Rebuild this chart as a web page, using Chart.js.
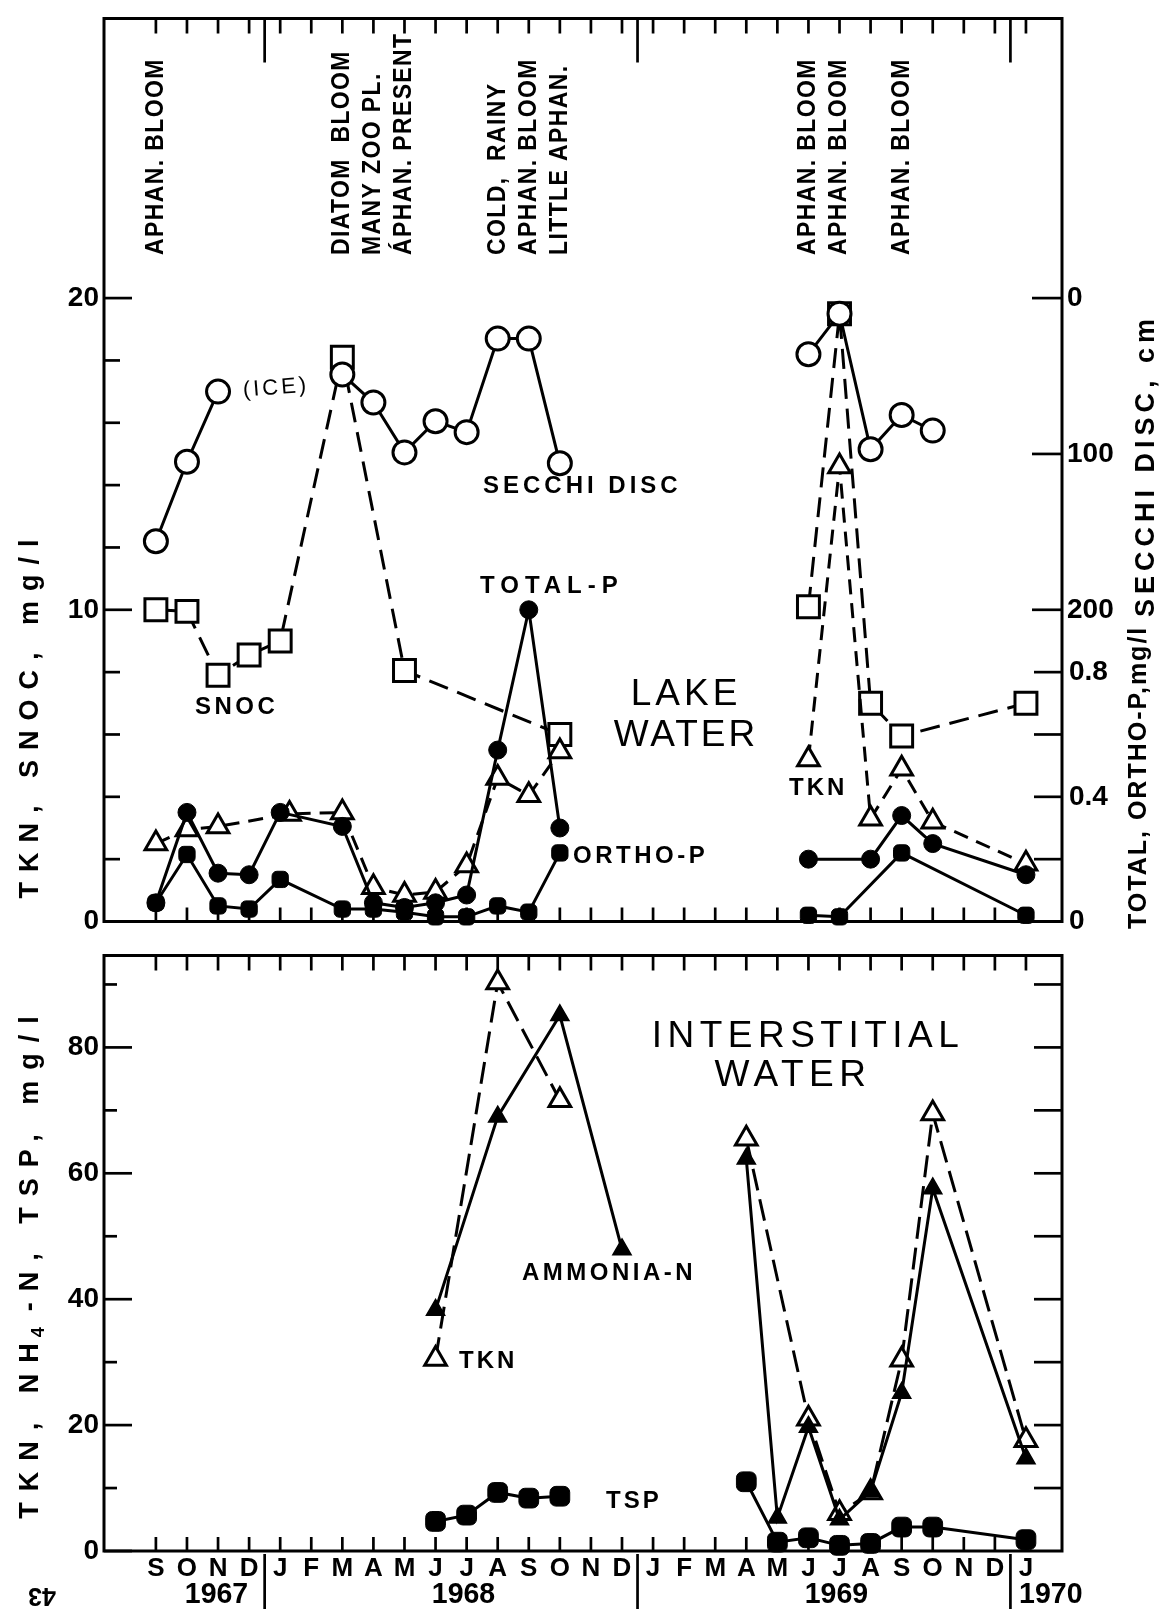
<!DOCTYPE html>
<html>
<head>
<meta charset="utf-8">
<script src="https://cdn.jsdelivr.net/npm/chart.js@4.4.1/dist/chart.umd.min.js"></script>
<style>
html, body { margin: 0; padding: 0; background: #fff; }
#wrap { position: relative; width: 1164px; height: 1610px; overflow: hidden; }
canvas { position: absolute; left: 0; }
#lake { top: 0; }
#pore { top: 940px; }
</style>
</head>
<body>
<div id="wrap">
  <canvas id="lake" width="1164" height="940" style="width:1164px;height:940px"></canvas>
  <canvas id="pore" width="1164" height="670" style="width:1164px;height:670px"></canvas>
</div>
<script>
// month axis, Sep 1967 .. Jan 1970 (index 0 = S 1967)
const months = ['S','O','N','D','J','F','M','A','M','J','J','A','S','O','N','D','J','F','M','A','M','J','J','A','S','O','N','D','J'];
const years = ['1967', '1968', '1969', '1970'];

// lake water (top panel). x = month index, null = break in the line
const secchiMonth = [0, 1, 2, 3, 6, 7, 8, 9, 10, 11, 12, 13, 17, 21, 22, 23, 24, 25];
const secchiCm    = [156, 105, 60, null, 49, 67, 99, 79, 86, 26, 26, 106, null, 36, 10, 97, 75, 85];

const snocMonth = [0, 1, 2, 3, 4, 6, 8, 13, 17, 21, 22, 23, 24, 28];
const snocMg    = [10.0, 9.95, 7.9, 8.55, 9.0, 18.1, 8.05, 6.0, null, 10.1, 19.5, 7.0, 5.95, 7.0];

const tknLakeMonth = [0, 1, 2, 4.3, 6, 7, 8, 9, 10, 11, 12, 13, 17, 21, 22, 23, 24, 25, 28];
const tknLakeMg    = [2.5, 2.95, 3.05, 3.45, 3.5, 1.1, 0.85, 0.95, 1.8, 4.6, 4.05, 5.45, null, 5.2, 14.6, 3.3, 4.9, 3.2, 1.85];

const totalPMonth = [0, 1, 2, 3, 4, 6, 7, 8, 9, 10, 11, 12, 13, 17, 21, 23, 24, 25, 28];
const totalPMg    = [0.06, 0.35, 0.155, 0.15, 0.35, 0.305, 0.06, 0.045, 0.06, 0.085, 0.55, 1.0, 0.30, null, 0.20, 0.20, 0.34, 0.25, 0.15];

const orthoPMonth = [0, 1, 2, 3, 4, 6, 7, 8, 9, 10, 11, 12, 13, 17, 21, 22, 24, 28];
const orthoPMg    = [0.06, 0.215, 0.05, 0.04, 0.135, 0.04, 0.04, 0.03, 0.015, 0.015, 0.05, 0.03, 0.22, null, 0.02, 0.015, 0.22, 0.02];

// interstitial water (bottom panel)
const tknPoreMonth = [9, 11, 13, 16, 19, 21, 22, 23, 24, 25, 28];
const tknPoreMg    = [30.5, 90.3, 71.6, null, 65.5, 21.0, 6.0, 9.3, 30.4, 69.5, 17.6];

const nh4Month = [9, 11, 13, 15, 17, 19, 20, 21, 22, 23, 24, 25, 28];
const nh4Mg    = [38.3, 69.0, 85.1, 47.9, null, 62.3, 5.3, 19.7, 5.0, 9.5, 25.1, 57.6, 14.7];

const tspMonth = [9, 10, 11, 12, 13, 16, 19, 20, 21, 22, 23, 24, 25, 28];
const tspMg    = [4.7, 5.7, 9.3, 8.4, 8.7, null, 11.0, 1.4, 2.1, 0.9, 1.2, 3.8, 3.8, 1.8];

// notes written above the lake panel, by month
const noteMonth = [0, 6, 7, 8, 11, 12, 13, 21, 22, 24];
const noteText  = ['APHAN. BLOOM', 'DIATOM  BLOOM', 'MANY ZOO PL.', 'ÁPHAN. PRESENT',
                   'COLD,  RAINY', 'APHAN. BLOOM', 'LITTLE APHAN.',
                   'APHAN. BLOOM', 'APHAN. BLOOM', 'APHAN. BLOOM'];

const lakeTicks = [0, 10, 20];
const secchiTicks = [0, 100, 200];
const pTicks = [0, 0.2, 0.4, 0.6, 0.8];
const pLabels = [0.8, 0.4, 0];
const poreTicks = [0, 20, 40, 60, 80];

const pts = (m, v) => m.map((x, i) => ({ x: x, y: v[i] }));

const X_MIN = -1.67, X_MAX = 29.16;
const yearBreaks = [3.5, 15.5, 27.5];

function seg(ctx, x1, y1, x2, y2) {
  ctx.beginPath(); ctx.moveTo(x1, y1); ctx.lineTo(x2, y2); ctx.stroke();
}

function txt(ctx, s, x, y, o) {
  o = o || {};
  ctx.save();
  ctx.translate(x, y);
  if (o.rot) ctx.rotate(o.rot);
  if (o.sx) ctx.scale(o.sx, 1);
  ctx.font = o.font || 'bold 22px "Liberation Sans"';
  ctx.letterSpacing = (o.ls || 0) + 'px';
  ctx.textAlign = o.align || 'left';
  ctx.textBaseline = o.base || 'middle';
  ctx.fillStyle = '#000';
  ctx.fillText(s, 0, 0);
  ctx.restore();
}

const UP = -Math.PI / 2;
const numFont = 'bold 28px "Liberation Sans"';
const lblFont = 'bold 24px "Liberation Sans"';
const bigFont = '37px "Liberation Sans"';

function monthTicks(ctx, a, x) {
  months.forEach((m, i) => {
    const px = x.getPixelForValue(i);
    seg(ctx, px, a.top, px, a.top + 15);
    seg(ctx, px, a.bottom, px, a.bottom - 14);
  });
}

const lakeFrame = {
  id: 'lakeFrame',
  beforeDatasetsDraw(chart) {
    const { ctx, chartArea: a, scales: s } = chart;
    ctx.save();
    ctx.strokeStyle = '#000';
    ctx.lineWidth = 3;
    ctx.strokeRect(a.left, a.top, a.right - a.left, a.bottom - a.top);
    ctx.lineWidth = 2.7;
    monthTicks(ctx, a, s.x);
    yearBreaks.forEach(b => {
      const px = s.x.getPixelForValue(b);
      seg(ctx, px, a.top, px, a.top + 44);
    });
    for (let v = 0; v <= 20; v += 2) {
      const py = s.y.getPixelForValue(v);
      seg(ctx, a.left, py, a.left + (v % 10 ? 16 : 28), py);
    }
    secchiTicks.forEach(v => {
      const py = s.ySec.getPixelForValue(v);
      seg(ctx, a.right - 30, py, a.right, py);
    });
    pTicks.forEach(v => {
      const py = s.yP.getPixelForValue(v);
      seg(ctx, a.right - 28, py, a.right, py);
    });
    ctx.restore();
  },
  afterDatasetsDraw(chart) {
    const { ctx, chartArea: a, scales: s } = chart;
    lakeTicks.forEach(v => txt(ctx, String(v), a.left - 5, s.y.getPixelForValue(v), { font: numFont, align: 'right' }));
    secchiTicks.forEach(v => txt(ctx, String(v), a.right + 5, s.ySec.getPixelForValue(v), { font: numFont }));
    pLabels.forEach(v => txt(ctx, String(v), a.right + 7, s.yP.getPixelForValue(v), { font: numFont }));

    noteMonth.forEach((m, i) => {
      txt(ctx, noteText[i], s.x.getPixelForValue(m), 255, { rot: UP, font: 'bold 25px "Liberation Sans"', ls: 1.5, sx: 0.92 });
    });

    txt(ctx, '(ICE)', 276, 388, { font: '22px "Liberation Sans"', ls: 3, align: 'center', rot: -0.08 });
    txt(ctx, 'SECCHI DISC', 483, 486, { font: lblFont, ls: 4 });
    txt(ctx, 'TOTAL-P', 480, 586, { font: lblFont, ls: 6 });
    txt(ctx, 'SNOC', 195, 707, { font: lblFont, ls: 3.5 });
    txt(ctx, 'LAKE', 686, 695, { font: bigFont, ls: 4, align: 'center' });
    txt(ctx, 'WATER', 686, 736, { font: bigFont, ls: 3, align: 'center' });
    txt(ctx, 'TKN', 789, 788, { font: lblFont, ls: 3 });
    txt(ctx, 'ORTHO-P', 573, 856, { font: lblFont, ls: 3.5 });

    txt(ctx, 'TKN, SNOC, mg/l', 31, 714, { rot: UP, font: 'bold 27px "Liberation Sans"', ls: 10, align: 'center' });
    txt(ctx, 'TOTAL, ORTHO-P,mg/l', 1139, 929, { rot: UP, font: 'bold 25px "Liberation Sans"', ls: 2 });
    txt(ctx, 'SECCHI DISC, cm', 1147, 617, { rot: UP, font: 'bold 27px "Liberation Sans"', ls: 5 });
  }
};

const poreFrame = {
  id: 'poreFrame',
  beforeDatasetsDraw(chart) {
    const { ctx, chartArea: a, scales: s } = chart;
    ctx.save();
    ctx.strokeStyle = '#000';
    ctx.lineWidth = 3;
    ctx.strokeRect(a.left, a.top, a.right - a.left, a.bottom - a.top);
    ctx.lineWidth = 2.7;
    monthTicks(ctx, a, s.x);
    for (let v = 0; v <= 90; v += 10) {
      const py = s.y.getPixelForValue(v);
      seg(ctx, a.left, py, a.left + (v % 20 ? 13 : 28), py);
      if (v) seg(ctx, a.right - 28, py, a.right, py);
    }
    yearBreaks.forEach(b => {
      const px = s.x.getPixelForValue(b);
      seg(ctx, px, a.bottom + 3, px, a.bottom + 58);
    });
    ctx.restore();
  },
  afterDatasetsDraw(chart) {
    const { ctx, chartArea: a, scales: s } = chart;
    poreTicks.forEach(v => txt(ctx, String(v), a.left - 5, s.y.getPixelForValue(v), { font: numFont, align: 'right' }));
    months.forEach((m, i) => txt(ctx, m, s.x.getPixelForValue(i), a.bottom + 18, { font: 'bold 26px "Liberation Sans"', align: 'center' }));
    const yearAt = [1.95, 9.9, 21.9, 28.8];
    years.forEach((y, i) => txt(ctx, y, s.x.getPixelForValue(yearAt[i]), a.bottom + 44, { font: 'bold 30px "Liberation Sans"', align: 'center', sx: 0.95 }));
    txt(ctx, '43', 42, a.bottom + 44, { font: 'bold 25px "Liberation Sans"', align: 'center', rot: Math.PI });

    txt(ctx, 'INTERSTITIAL', 808, 97, { font: bigFont, ls: 5.5, align: 'center' });
    txt(ctx, 'WATER', 793, 136, { font: bigFont, ls: 5.5, align: 'center' });
    txt(ctx, 'AMMONIA-N', 522, 333, { font: lblFont, ls: 3.5 });
    txt(ctx, 'TKN', 459, 421, { font: lblFont, ls: 3 });
    txt(ctx, 'TSP', 606, 561, { font: lblFont, ls: 3 });

    // rotated title with subscript 4
    ctx.save();
    ctx.translate(31, 322);
    ctx.rotate(UP);
    ctx.fillStyle = '#000';
    ctx.textBaseline = 'middle';
    ctx.letterSpacing = '11px';
    const big = 'bold 27px "Liberation Sans"', small = 'bold 18px "Liberation Sans"';
    const p1 = 'TKN, NH', p3 = '-N, TSP, mg/l';
    ctx.font = big;
    const w1 = ctx.measureText(p1).width, w3 = ctx.measureText(p3).width;
    ctx.font = small;
    const w2 = ctx.measureText('4').width;
    const x0 = -(w1 + w2 + w3) / 2;
    ctx.font = big;
    ctx.fillText(p1, x0, 0);
    ctx.font = small;
    ctx.fillText('4', x0 + w1 - 5, 8);
    ctx.font = big;
    ctx.fillText(p3, x0 + w1 + w2, 0);
    ctx.restore();
  }
};

function lineSet(data, o) {
  return Object.assign({
    data: data, borderColor: '#000', borderWidth: 3, spanGaps: false, clip: false,
    pointBorderColor: '#000', pointBorderWidth: 3, pointHoverRadius: 0
  }, o);
}

const common = {
  responsive: false, animation: false, devicePixelRatio: 1,
  events: [],
  plugins: { legend: { display: false }, tooltip: { enabled: false } }
};

new Chart(document.getElementById('lake'), {
  type: 'line',
  data: {
    datasets: [
      lineSet(pts(secchiMonth, secchiCm), { yAxisID: 'ySec', pointStyle: 'circle', pointRadius: 11.5, pointBackgroundColor: '#fff' }),
      lineSet(pts(totalPMonth, totalPMg), { yAxisID: 'yP', pointStyle: 'circle', pointRadius: 9, pointBackgroundColor: '#000', pointBorderWidth: 1 }),
      lineSet(pts(orthoPMonth, orthoPMg), { yAxisID: 'yP', pointStyle: 'rectRounded', pointRadius: 9.5, pointBackgroundColor: '#000', pointBorderWidth: 1 }),
      lineSet(pts(tknLakeMonth, tknLakeMg), { yAxisID: 'y', borderDash: [15, 9], pointStyle: 'triangle', pointRadius: 12.5, pointBackgroundColor: '#fff' }),
      lineSet(pts(snocMonth, snocMg), { yAxisID: 'y', borderDash: [20, 10], pointStyle: 'rect', pointRadius: 15.5, pointBackgroundColor: '#fff' })
    ]
  },
  options: Object.assign({}, common, {
    layout: { padding: { left: 104, right: 102, top: 13, bottom: 16 } },
    scales: {
      x: { type: 'linear', min: X_MIN, max: X_MAX, display: false },
      y: { type: 'linear', min: 0, max: 28.97, display: false },
      ySec: { type: 'linear', min: (20 - 28.97) * 20, max: 400, reverse: true, display: false },
      yP: { type: 'linear', min: 0, max: 2.897, display: false }
    }
  }),
  plugins: [lakeFrame]
});

new Chart(document.getElementById('pore'), {
  type: 'line',
  data: {
    datasets: [
      lineSet(pts(nh4Month, nh4Mg), { pointStyle: 'triangle', pointRadius: 10.5, pointBackgroundColor: '#000', pointBorderWidth: 1.5 }),
      lineSet(pts(tspMonth, tspMg), { pointStyle: 'rectRounded', pointRadius: 11.5, pointBackgroundColor: '#000', pointBorderWidth: 1 }),
      lineSet(pts(tknPoreMonth, tknPoreMg), { borderDash: [22, 9], pointStyle: 'triangle', pointRadius: 12.5, pointBackgroundColor: '#fff' })
    ]
  },
  options: Object.assign({}, common, {
    layout: { padding: { left: 104, right: 102, top: 15, bottom: 59 } },
    scales: {
      x: { type: 'linear', min: X_MIN, max: X_MAX, display: false },
      y: { type: 'linear', min: 0, max: 94.6, display: false }
    }
  }),
  plugins: [poreFrame]
});
</script>
</body>
</html>
